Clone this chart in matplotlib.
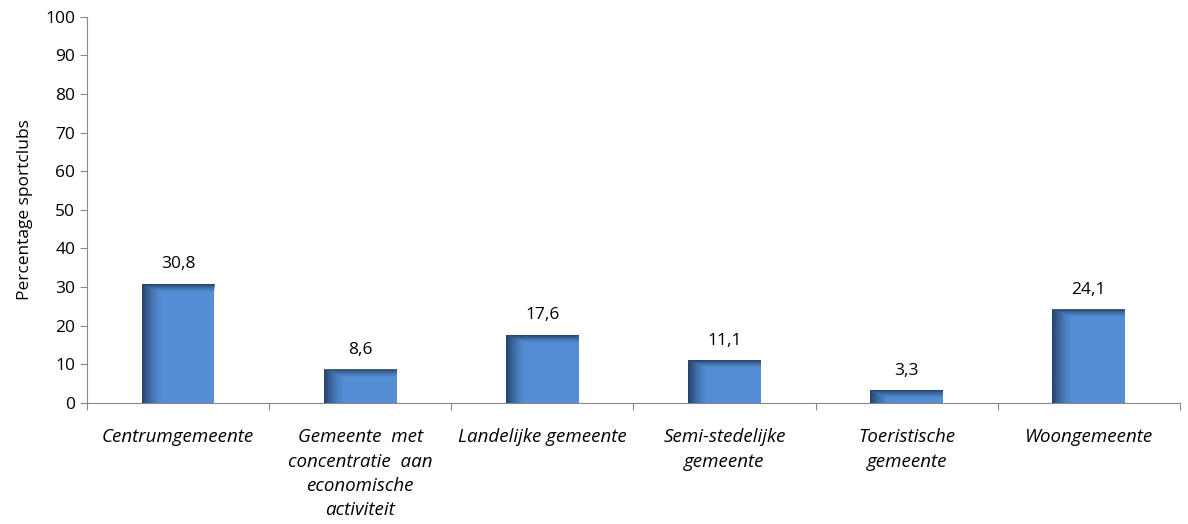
import numpy as np
import matplotlib
matplotlib.use('Agg')
import matplotlib.pyplot as plt
from matplotlib.colors import to_rgb

categories = ['Centrumgemeente',
              'Gemeente  met\nconcentratie  aan\neconomische\nactiviteit',
              'Landelijke gemeente',
              'Semi-stedelijke\ngemeente',
              'Toeristische\ngemeente',
              'Woongemeente']
values = [30.8, 8.6, 17.6, 11.1, 3.3, 24.1]
labels = ['30,8', '8,6', '17,6', '11,1', '3,3', '24,1']

plt.rcParams['font.family'] = ['Open Sans', 'DejaVu Sans']

fig = plt.figure(figsize=(11.88, 5.24), dpi=100)
ax = fig.add_axes([0.0732, 0.231, 0.920, 0.737])

x = np.arange(len(categories))
bw = 0.4
bars = ax.bar(x, values, width=bw, color='#558ed5', zorder=2)

# inner shadow on left and top edge
dark = np.array(to_rgb('#1c3557'))
for b, lab in zip(bars, labels):
    x0, w, h = b.get_x(), b.get_width(), b.get_height()
    nx, ny = 200, 200
    gx = np.linspace(0, 1, nx)
    left = np.clip(1 - gx / 0.28, 0, 1) ** 1.5
    top_h = 2.2
    gy = np.linspace(h, 0, ny)
    top = np.clip(1 - (h - gy) / top_h, 0, 1) ** 1.5
    a = np.maximum(left[None, :], top[:, None]) * 0.85
    img = np.zeros((ny, nx, 4))
    img[..., :3] = dark
    img[..., 3] = a
    ax.imshow(img, extent=[x0, x0 + w, 0, h], aspect='auto', zorder=3,
              interpolation='bilinear')
    ax.text(x0 + w / 2, h + 3, lab, ha='center', va='bottom', fontsize=12.5)

ax.set_xlim(-0.5, len(categories) - 0.5)
ax.set_ylim(0, 100)
ax.set_yticks(np.arange(0, 101, 10))
ax.set_xticks(np.arange(-0.5, len(categories), 1))
ax.set_xticklabels([])
ax.tick_params(axis='x', length=5, color='#888888', direction='out')
ax.tick_params(axis='y', length=5, color='#888888', labelsize=12.5)
for i, c in enumerate(categories):
    ax.text(i, -6.6, c, ha='center', va='top', fontsize=13.5, style='italic',
            linespacing=1.45)

for s in ['top', 'right']:
    ax.spines[s].set_visible(False)
for s in ['left', 'bottom']:
    ax.spines[s].set_color('#888888')
ax.set_ylabel('Percentage sportclubs', fontsize=12.5, labelpad=9)

fig.savefig('out.png', dpi=100)
